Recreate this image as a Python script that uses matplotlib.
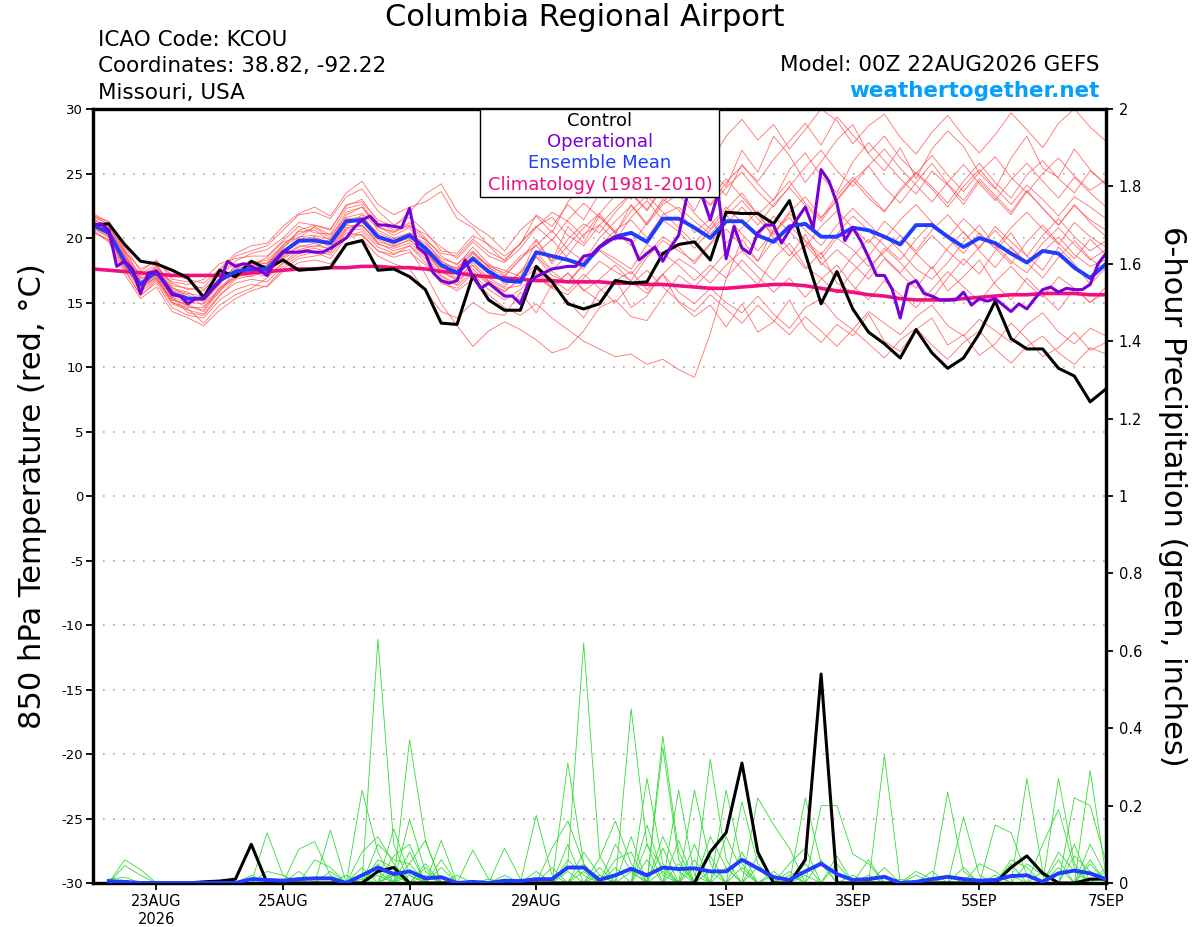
import numpy as np
import matplotlib
matplotlib.use("Agg")
import matplotlib.pyplot as plt
from matplotlib.patches import Rectangle

plt.rcParams['font.family'] = ['DejaVu Sans']

# ---------------- DATA ----------------
x_tick_hours = [24, 72, 120, 168, 240, 288, 336, 384]
x_tick_labels = ['23AUG\n2026', '25AUG', '27AUG', '29AUG', '1SEP', '3SEP', '5SEP', '7SEP']
temp_ticks = [-30, -25, -20, -15, -10, -5, 0, 5, 10, 15, 20, 25, 30]
precip_ticks = [0, 0.2, 0.4, 0.6, 0.8, 1.0, 1.2, 1.4, 1.6, 1.8, 2.0]
precip_tick_labels = ['0', '0.2', '0.4', '0.6', '0.8', '1', '1.2', '1.4', '1.6', '1.8', '2']

# 850 hPa temperature, 6-hourly from 00Z 22AUG (65 values)
control_temp = [21.0, 21.1, 19.5, 18.2, 18.0, 17.5, 16.9, 15.4, 17.5, 17.0, 18.2, 17.6, 18.3,
                17.5, 17.6, 17.7, 19.5, 19.8, 17.5, 17.6, 17.0, 16.0, 13.4, 13.3, 17.1, 15.2,
                14.4, 14.4, 17.8, 16.6, 14.9, 14.5, 14.9, 16.7, 16.5, 16.6, 18.8, 19.5, 19.7,
                18.3, 22.0, 21.9, 21.9, 21.1, 22.9, 18.8, 14.9, 17.4, 14.5, 12.7, 11.8, 10.7,
                12.9, 11.1, 9.9, 10.7, 12.6, 15.1, 12.2, 11.4, 11.4, 9.9, 9.3, 7.3, 8.3]

mean_temp = [21.0, 20.4, 18.2, 16.4, 17.4, 15.7, 15.3, 15.3, 16.7, 17.4, 17.6, 17.6, 18.9,
             19.8, 19.8, 19.6, 21.3, 21.4, 20.1, 19.7, 20.2, 19.2, 17.9, 17.3, 18.4, 17.4,
             16.7, 16.6, 18.9, 18.6, 18.3, 17.9, 19.3, 20.1, 20.4, 19.7, 21.5, 21.5, 20.8,
             20.0, 21.3, 21.3, 20.2, 19.7, 20.9, 21.1, 20.1, 20.1, 20.8, 20.6, 20.1, 19.5,
             21.0, 21.0, 20.1, 19.3, 20.0, 19.6, 18.8, 18.1, 19.0, 18.8, 17.7, 16.9, 18.0]

climatology_temp = [17.6, 17.5, 17.4, 17.3, 17.2, 17.1, 17.1, 17.1, 17.1, 17.2,
                    17.3, 17.4, 17.5, 17.6, 17.6, 17.7, 17.7, 17.8, 17.8, 17.7,
                    17.7, 17.6, 17.4, 17.3, 17.1, 17.0, 16.9, 16.8, 16.7, 16.7,
                    16.6, 16.6, 16.6, 16.5, 16.5, 16.4, 16.4, 16.3, 16.2, 16.1,
                    16.1, 16.2, 16.3, 16.4, 16.4, 16.3, 16.1, 15.9, 15.8, 15.6,
                    15.5, 15.3, 15.2, 15.2, 15.2, 15.3, 15.4, 15.5, 15.6, 15.6,
                    15.7, 15.7, 15.7, 15.6, 15.6]

# Operational run, 3-hourly (129 values)
operational_temp = [21.0, 21.1, 20.6, 17.8, 18.2, 17.6, 15.7, 17.3, 17.4, 16.6, 15.6, 15.5, 14.9,
                    15.3, 15.3, 16.0, 16.6, 18.2, 17.8, 18.0, 17.8, 17.5, 17.1, 18.2, 18.9, 18.9,
                    18.9, 19.0, 18.9, 18.9, 19.2, 19.6, 20.0, 20.8, 21.4, 21.7, 21.0, 21.0, 20.9,
                    20.8, 22.3, 19.3, 18.8, 17.3, 16.7, 16.5, 16.7, 18.3, 17.0, 16.1, 16.5, 16.0,
                    15.5, 15.5, 14.9, 16.5, 17.0, 17.3, 17.6, 17.7, 17.8, 17.8, 18.6, 18.7, 19.3,
                    19.8, 20.0, 20.0, 19.8, 18.3, 18.8, 19.3, 18.2, 19.3, 20.2, 23.1, 24.5, 23.2,
                    21.4, 23.5, 18.4, 20.9, 19.2, 18.8, 20.4, 21.0, 21.0, 19.6, 20.6, 21.5, 22.4,
                    20.8, 25.3, 24.4, 22.7, 19.8, 20.8, 19.8, 18.5, 17.1, 17.1, 16.0, 13.8, 16.4,
                    16.7, 15.7, 15.5, 15.2, 15.2, 15.2, 15.8, 14.8, 15.3, 15.1, 15.3, 14.8, 14.3,
                    14.9, 14.5, 15.3, 16.0, 16.2, 15.8, 16.1, 16.0, 16.0, 16.4, 18.0, 18.8]

member_temps = [
    [21.5, 20.8, 19.0, 17.0, 17.8, 16.5, 16.0, 16.2, 17.5, 18.6, 19.0, 19.4, 20.6,
     21.8, 22.0, 21.5, 23.2, 23.8, 22.1, 21.0, 21.6, 20.5, 19.0, 18.8, 20.2, 19.5,
     18.6, 19.5, 21.8, 20.9, 22.6, 21.4, 23.5, 24.8, 23.0, 25.6, 24.1, 26.3, 27.5,
     25.2, 24.0, 26.8, 25.1, 27.9, 26.4, 24.3, 25.9, 27.6, 28.8, 26.5, 25.2, 27.0,
     24.6, 26.9, 28.3, 27.1, 25.0, 23.8, 26.2, 27.9, 25.4, 24.7, 26.9, 25.3, 24.1],
    [20.6, 19.8, 17.5, 15.6, 16.5, 14.6, 14.0, 13.8, 15.2, 16.0, 16.4, 16.2, 17.4,
     18.1, 18.3, 18.0, 19.6, 19.9, 18.6, 18.0, 17.6, 15.9, 14.3, 13.8, 15.0, 14.2,
     14.0, 15.8, 14.2, 16.4, 15.1, 13.8, 15.9, 16.8, 14.6, 15.5, 17.2, 15.0, 13.9,
     14.8, 13.1, 14.9, 12.7, 13.5, 15.2, 13.0, 11.9, 13.3, 12.4, 14.1, 12.0, 11.2,
     12.9, 13.8, 11.7, 12.5, 10.9, 11.8, 13.4, 12.2, 10.8, 11.5, 12.7, 11.3, 11.9],
    [21.2, 20.6, 18.5, 16.9, 17.0, 15.2, 14.8, 14.4, 16.1, 17.0, 17.2, 17.9, 19.5,
     20.3, 20.8, 20.0, 22.0, 22.4, 20.9, 20.4, 21.2, 20.0, 18.6, 17.9, 19.3, 18.0,
     17.1, 18.3, 19.9, 18.0, 19.4, 20.8, 21.9, 20.3, 22.6, 21.1, 23.0, 22.2, 20.4,
     21.5, 19.6, 20.8, 22.1, 19.9, 18.6, 20.3, 17.9, 19.1, 18.0, 16.8, 18.4, 17.2,
     16.1, 17.8, 15.9, 17.0, 18.3, 16.4, 15.2, 16.9, 15.6, 14.4, 16.1, 15.0, 15.8],
    [21.8, 21.0, 18.9, 16.2, 17.9, 16.1, 15.8, 15.0, 16.4, 17.9, 18.2, 18.0, 19.2,
     20.6, 21.0, 20.7, 22.5, 23.0, 21.2, 20.6, 21.0, 19.8, 18.2, 17.5, 18.6, 17.9,
     17.5, 17.0, 19.8, 18.2, 20.9, 19.6, 21.7, 20.5, 19.4, 21.2, 22.8, 23.9, 22.1,
     24.5, 23.3, 25.7, 24.2, 22.9, 25.3, 26.6, 24.8, 23.5, 25.9, 27.4, 26.0, 24.6,
     23.4, 25.2, 24.1, 22.6, 24.4, 23.1, 21.8, 23.6, 22.3, 21.0, 22.5, 21.4, 20.6],
    [20.9, 20.0, 17.9, 15.8, 16.8, 15.0, 14.5, 13.4, 14.8, 15.6, 16.1, 16.9, 18.0,
     18.8, 19.0, 18.7, 20.1, 20.5, 19.3, 18.8, 19.1, 17.2, 14.9, 13.2, 11.6, 12.8,
     13.5, 12.9, 12.1, 11.1, 11.5, 12.8, 14.6, 15.2, 13.9, 13.6, 15.4, 17.1, 16.2,
     17.5, 18.9, 17.6, 16.4, 18.4, 19.6, 17.8, 16.9, 15.7, 17.4, 18.6, 20.2, 19.0,
     17.6, 16.8, 18.1, 19.7, 21.0, 19.4, 18.2, 17.3, 18.9, 20.1, 18.7, 17.8, 18.3],
    [21.0, 20.2, 18.0, 16.2, 17.1, 15.4, 15.0, 14.9, 16.0, 17.0, 17.5, 17.2, 18.4,
     19.1, 19.4, 19.2, 20.8, 21.0, 19.6, 19.0, 19.4, 18.1, 16.6, 15.9, 16.8, 15.6,
     14.6, 14.0, 14.9, 13.8, 12.9, 12.0, 11.4, 10.8, 11.0, 10.2, 10.6, 9.8, 9.2,
     12.6, 16.8, 19.9, 18.2, 20.7, 19.1, 17.6, 18.9, 16.5, 15.8, 17.4, 19.2, 18.1,
     16.7, 15.3, 16.9, 18.4, 17.2, 19.0, 20.4, 18.6, 17.5, 19.3, 18.0, 16.4, 17.7],
    [21.3, 20.7, 18.6, 17.2, 18.0, 16.3, 16.1, 15.9, 17.3, 18.2, 18.8, 19.1, 20.0,
     21.2, 21.0, 20.6, 22.6, 22.8, 21.4, 20.9, 22.0, 23.4, 24.2, 22.1, 21.0, 20.2,
     19.0, 20.6, 21.7, 20.4, 22.8, 24.1, 23.2, 25.4, 26.9, 25.5, 27.3, 28.6, 27.0,
     25.8, 27.9, 29.2, 27.6, 28.8, 26.9, 28.4, 30.0, 29.1, 27.3, 28.7, 29.6, 27.8,
     26.5, 28.2, 29.5, 27.9, 26.6, 28.0, 29.7, 28.4, 27.0, 28.9, 30.0, 28.6, 27.5],
    [20.4, 19.9, 17.8, 16.0, 16.9, 15.2, 14.9, 15.6, 16.9, 17.2, 17.0, 17.5, 18.6,
     19.4, 19.3, 19.9, 21.2, 21.6, 20.4, 19.9, 20.3, 19.6, 18.4, 18.0, 19.0, 17.8,
     16.4, 17.3, 18.5, 17.1, 16.6, 18.0, 19.1, 18.4, 17.6, 19.5, 18.8, 17.9, 16.7,
     17.9, 16.9, 18.3, 17.0, 15.8, 16.9, 15.4, 16.8, 17.9, 16.3, 15.2, 16.7, 15.6,
     14.6, 16.0, 17.4, 16.2, 15.1, 16.6, 17.8, 16.5, 15.4, 17.0, 16.1, 15.0, 16.2],
    [21.6, 21.1, 19.2, 16.8, 17.6, 16.6, 16.4, 16.8, 18.0, 18.4, 18.6, 18.6, 19.8,
     20.9, 20.4, 20.3, 22.3, 22.6, 20.9, 20.2, 20.8, 19.0, 17.4, 16.8, 18.1, 16.9,
     16.2, 17.4, 18.9, 17.5, 18.7, 20.3, 21.0, 19.8, 21.6, 22.9, 21.4, 20.5, 19.2,
     20.6, 21.8, 20.3, 19.0, 20.5, 21.6, 19.8, 18.7, 20.3, 21.7, 20.6, 19.4, 18.3,
     19.9, 21.2, 20.0, 18.8, 20.4, 19.2, 18.0, 19.7, 21.0, 19.6, 18.4, 19.9, 18.7],
    [20.8, 20.3, 18.1, 15.9, 17.6, 15.9, 15.6, 14.7, 15.8, 17.6, 17.9, 18.5, 19.7,
     20.0, 20.9, 20.2, 21.6, 21.9, 20.8, 20.5, 20.9, 20.3, 19.3, 18.4, 19.7, 18.6,
     18.1, 19.2, 20.8, 22.0, 21.3, 20.1, 21.9, 23.3, 24.4, 23.0, 24.8, 25.9, 24.3,
     23.1, 24.6, 23.2, 21.8, 23.0, 24.4, 22.7, 21.5, 23.3, 24.7, 23.4, 22.1, 23.6,
     25.0, 23.8, 22.4, 24.0, 25.3, 23.9, 22.6, 24.1, 23.0, 21.7, 23.2, 22.4, 21.5],
    [21.1, 20.5, 18.3, 16.6, 17.3, 15.5, 14.2, 14.0, 15.5, 16.8, 17.1, 17.8, 19.0,
     19.9, 20.1, 19.5, 21.0, 20.9, 19.9, 19.3, 19.9, 18.8, 17.4, 16.7, 17.6, 16.5,
     15.9, 16.8, 17.6, 16.2, 17.3, 16.0, 15.1, 16.7, 17.4, 16.0, 17.2, 15.8, 14.9,
     16.1, 15.0, 14.2, 15.5, 14.1, 13.0, 14.6, 15.3, 13.8, 12.9, 14.3, 13.4, 12.5,
     13.9, 14.8, 13.2, 12.4, 13.7, 12.8, 11.9, 13.3, 14.2, 12.7, 11.8, 13.0, 12.4],
    [21.4, 20.9, 18.7, 16.6, 17.2, 16.2, 15.4, 15.2, 16.6, 17.3, 17.8, 17.3, 18.8,
     19.6, 19.9, 19.3, 21.0, 21.8, 20.2, 19.6, 20.0, 19.3, 18.0, 17.7, 18.9, 17.7,
     17.0, 18.4, 19.4, 20.6, 19.1, 18.2, 20.0, 21.3, 22.5, 21.0, 22.6, 23.4, 21.9,
     20.7, 22.2, 23.5, 21.8, 20.4, 22.0, 23.2, 21.6, 22.9, 24.4, 25.6, 23.9, 22.7,
     24.3, 25.8, 24.2, 22.9, 24.6, 23.3, 22.0, 23.7, 22.3, 21.0, 22.6, 21.2, 20.1],
    [20.7, 20.1, 17.6, 15.5, 16.7, 14.9, 14.4, 14.1, 15.6, 16.5, 16.8, 16.6, 17.8,
     18.6, 18.9, 18.4, 20.0, 20.3, 19.0, 18.5, 18.9, 17.9, 16.5, 16.1, 17.2, 16.0,
     15.2, 16.0, 17.3, 16.1, 15.6, 16.9, 18.2, 17.4, 16.7, 18.5, 19.8, 19.0, 18.2,
     19.6, 21.1, 22.4, 21.0, 22.6, 23.9, 22.5, 21.3, 23.0, 24.5, 23.1, 22.0, 23.8,
     25.1, 24.0, 22.7, 24.4, 25.8, 24.3, 23.1, 24.9, 26.0, 24.6, 23.5, 25.2, 24.2],
    [21.9, 21.2, 19.4, 17.4, 18.3, 16.8, 16.6, 16.0, 17.2, 18.0, 18.0, 18.3, 19.4,
     20.5, 20.6, 19.8, 21.8, 22.4, 20.6, 20.0, 20.4, 19.9, 18.8, 18.6, 19.9, 18.9,
     18.3, 19.6, 20.9, 19.8, 21.4, 22.7, 21.6, 20.4, 22.1, 23.3, 22.0, 20.8, 19.6,
     21.0, 22.4, 21.2, 20.1, 21.7, 20.5, 19.3, 20.9, 22.1, 20.8, 19.6, 21.3, 20.2,
     19.0, 20.6, 21.8, 20.4, 19.2, 20.9, 19.7, 18.6, 20.2, 21.5, 20.1, 19.0, 19.8],
    [21.0, 20.4, 18.4, 16.1, 17.0, 15.0, 14.6, 14.6, 16.2, 17.1, 17.3, 17.0, 18.1,
     19.0, 19.2, 18.9, 20.6, 20.7, 19.5, 19.2, 19.6, 18.6, 17.1, 16.4, 17.9, 16.6,
     15.8, 16.9, 17.9, 16.8, 15.9, 17.2, 16.1, 15.0, 16.4, 17.5, 16.2, 15.1, 14.3,
     15.6, 14.5, 13.4, 14.8, 13.6, 12.5, 13.9, 12.8, 11.6, 12.9, 11.8, 10.7, 12.1,
     13.0, 11.7, 10.6, 11.9, 12.8, 11.4, 10.3, 11.6, 12.4, 11.1, 10.2, 11.5, 11.0],
    [21.2, 20.6, 18.2, 16.5, 17.5, 15.6, 15.2, 15.4, 16.8, 17.7, 17.8, 18.1, 19.3,
     20.1, 20.2, 19.9, 21.5, 21.6, 20.2, 19.7, 20.4, 19.4, 18.2, 17.6, 18.8, 17.8,
     17.3, 18.6, 19.4, 18.2, 19.9, 21.1, 20.4, 22.0, 23.4, 22.1, 23.9, 25.0, 23.8,
     22.6, 24.3, 25.6, 24.4, 26.1, 27.5, 28.9, 27.2, 29.4, 28.0, 26.6, 27.9, 26.2,
     25.0, 26.4, 24.9, 23.6, 25.1, 26.3, 24.7, 23.5, 25.0, 26.2, 24.8, 23.7, 24.5],
    [20.5, 19.7, 17.2, 15.3, 16.2, 14.3, 13.8, 13.2, 14.4, 15.3, 15.9, 16.3, 17.6,
     18.4, 18.6, 18.9, 20.4, 20.2, 19.0, 18.7, 19.4, 18.4, 17.0, 16.3, 17.4, 16.4,
     15.6, 15.2, 17.0, 16.1, 17.3, 15.9, 16.8, 17.9, 16.6, 15.7, 17.2, 18.4, 17.6,
     16.5, 17.9, 19.0, 17.8, 16.7, 18.3, 19.5, 18.1, 17.0, 18.6, 19.9, 18.5, 17.3,
     18.8, 20.2, 19.0, 17.9, 19.3, 20.6, 19.2, 18.0, 19.6, 20.8, 19.5, 18.3, 19.1],
    [21.7, 21.3, 19.0, 17.6, 18.2, 17.1, 16.8, 16.5, 17.6, 18.8, 19.4, 19.6, 20.9,
     21.9, 22.4, 21.7, 23.5, 24.4, 22.6, 21.8, 22.4, 22.8, 23.6, 21.5, 20.8, 19.4,
     18.2, 19.6, 20.9, 21.6, 20.2, 19.4, 21.0, 22.3, 23.5, 22.2, 24.0, 25.2, 23.7,
     22.5, 23.9, 25.1, 23.6, 22.4, 24.0, 25.5, 26.8, 25.2, 24.0, 25.6, 26.9, 25.4,
     24.1, 22.8, 24.3, 25.7, 24.2, 22.9, 24.5, 25.8, 24.4, 23.1, 24.7, 23.5, 22.4],
    [20.9, 20.2, 17.7, 16.3, 16.9, 15.3, 14.7, 14.3, 15.9, 16.9, 17.4, 17.4, 18.5,
     19.3, 19.6, 19.1, 20.7, 21.0, 19.7, 19.4, 19.8, 18.9, 17.6, 16.9, 17.9, 16.7,
     16.1, 16.3, 18.6, 17.4, 16.5, 17.9, 19.0, 18.1, 17.2, 18.7, 20.1, 19.3, 18.0,
     19.5, 20.7, 19.4, 18.2, 19.8, 21.0, 19.7, 18.4, 20.0, 19.1, 17.8, 18.9, 20.2,
     18.8, 17.6, 19.2, 20.5, 19.0, 17.7, 19.3, 18.1, 16.9, 18.5, 19.8, 18.4, 17.5],
    [21.3, 20.6, 18.8, 16.6, 17.7, 16.0, 15.7, 15.5, 16.9, 17.5, 17.7, 17.9, 19.1,
     19.8, 20.0, 19.7, 21.2, 21.3, 20.0, 19.5, 20.1, 19.0, 17.7, 17.2, 18.3, 17.2,
     16.9, 16.8, 18.8, 19.9, 18.4, 17.6, 19.4, 20.6, 21.4, 20.0, 21.8, 22.4, 21.3,
     20.3, 21.7, 22.9, 21.5, 20.2, 21.9, 20.6, 19.4, 21.0, 22.3, 21.1, 19.9, 21.4,
     22.6, 21.2, 20.0, 21.5, 20.3, 19.2, 20.8, 22.0, 20.7, 19.5, 21.2, 20.1, 19.3],
]

# 6-hour precipitation (inches), periods ending 06Z 22AUG ... 00Z 7SEP (64 values)
control_precip = [0, 0, 0, 0, 0, 0, 0.003, 0.005,
                  0.01, 0.10, 0, 0, 0, 0, 0, 0,
                  0, 0.03, 0.04, 0, 0, 0, 0, 0,
                  0, 0, 0, 0, 0, 0, 0, 0,
                  0, 0, 0, 0, 0, 0, 0.08, 0.13,
                  0.31, 0.08, 0, 0, 0.06, 0.54, 0, 0,
                  0, 0, 0, 0, 0, 0, 0, 0,
                  0, 0.04, 0.07, 0.025, 0, 0, 0.01, 0.01]

mean_precip = [0.005, 0.003, 0, 0, 0, 0, 0, 0,
               0, 0.01, 0.008, 0.006, 0.01, 0.012, 0.012, 0,
               0.02, 0.04, 0.023, 0.03, 0.012, 0.015, 0, 0.003,
               0, 0.006, 0.005, 0.01, 0.01, 0.04, 0.04, 0.008,
               0.02, 0.037, 0.02, 0.04, 0.036, 0.038, 0.03, 0.03,
               0.06, 0.038, 0.015, 0.008, 0.03, 0.05, 0.023, 0.008,
               0.01, 0.016, 0, 0.003, 0.01, 0.016, 0.01, 0.006,
               0.008, 0.018, 0.02, 0.003, 0.025, 0.032, 0.025, 0.01]

# ensemble members: {6-h period number (1..64): precip inches}, other periods dry
member_precip = [
    {2: .06, 3: .035, 18: .63, 19: .10, 30: .05, 31: .62, 32: .07, 45: .22, 46: .05, 55: .17, 56: .02},
    {2: .045, 3: .02, 17: .24, 18: .08, 20: .37, 21: .11, 34: .45, 35: .10, 50: .33, 61: .27, 62: .05},
    {11: .13, 12: .02, 20: .165, 21: .03, 30: .31, 31: .05, 36: .38, 37: .08, 59: .27, 60: .03},
    {13: .087, 14: .107, 15: .02, 19: .14, 20: .02, 28: .175, 29: .02, 35: .27, 36: .05, 39: .32,
     40: .06, 63: .29, 64: .02},
    {15: .137, 22: .11, 26: .09, 27: .01, 36: .35, 37: .06, 41: .21, 42: .05, 54: .235, 55: .03},
    {1: .01, 2: .015, 18: .06, 19: .04, 24: .085, 25: .01, 29: .09, 30: .16, 31: .05, 38: .24,
     39: .05, 57: .15, 58: .13, 59: .02},
    {14: .06, 15: .04, 18: .10, 19: .06, 20: .05, 21: .11, 32: .064, 33: .16, 34: .05, 37: .24,
     38: .02, 42: .22, 43: .15, 44: .09, 62: .22, 63: .20, 64: .055},
    {17: .08, 18: .12, 19: .05, 31: .08, 32: .02, 35: .10, 36: .04, 40: .24, 41: .05, 46: .20,
     47: .20, 48: .075, 49: .05, 60: .10, 61: .19, 62: .04},
    {11: .03, 12: .02, 18: .05, 20: .08, 22: .04, 30: .10, 33: .06, 34: .08, 39: .12, 40: .04,
     44: .05, 45: .09, 58: .06, 59: .04, 63: .10, 64: .02},
    {10: .02, 13: .03, 17: .04, 19: .02, 21: .05, 26: .02, 28: .03, 34: .12, 36: .09, 38: .06,
     41: .08, 43: .03, 47: .07, 49: .02, 56: .05, 57: .03, 61: .08, 62: .03},
    {12: .01, 15: .03, 18: .02, 20: .03, 22: .06, 31: .03, 33: .04, 35: .06, 37: .11, 39: .03,
     42: .04, 45: .02, 52: .03, 53: .01, 59: .05, 60: .02, 63: .06},
    {16: .02, 19: .03, 21: .02, 25: .01, 29: .04, 32: .02, 36: .03, 38: .10, 40: .12, 41: .03,
     46: .06, 48: .02, 55: .04, 58: .02, 62: .10, 64: .03},
    {18: .03, 20: .05, 23: .02, 30: .06, 31: .02, 34: .03, 37: .05, 39: .07, 43: .02, 47: .05,
     51: .01, 54: .02, 61: .04, 63: .05},
    {17: .01, 19: .07, 20: .10, 27: .01, 30: .03, 32: .04, 35: .15, 36: .02, 40: .04, 44: .02,
     50: .04, 57: .02, 60: .03, 64: .04},
    {20: .02, 33: .10, 34: .03, 38: .04, 42: .07, 44: .03, 49: .06, 53: .03, 56: .01, 62: .07, 63: .03},
    {19: .02, 21: .04, 31: .05, 36: .12, 37: .03, 41: .04, 45: .05, 52: .02, 58: .05, 61: .06},
]

# ---------------- STYLE ----------------
C_MEMBER = '#ff5555'
C_GREEN = '#33dd33'
C_CONTROL = 'black'
C_OPER = '#7a00d6'
C_MEAN = '#1f3dff'
C_CLIM = '#f0107f'

fig = plt.figure(figsize=(12, 9.27), dpi=100)
ax = fig.add_axes([93 / 1200, 1 - 883 / 927, (1106 - 93) / 1200, (883 - 109) / 927])
ax2 = ax.twinx()

# temperature (left axis)
for m in member_temps:
    ax.plot(np.arange(len(m)) * 6, m, color=C_MEMBER, lw=0.6, alpha=0.85, zorder=2)
ax.plot(np.arange(len(climatology_temp)) * 6, climatology_temp, color=C_CLIM, lw=2.6, zorder=4)
ax.plot(np.arange(len(control_temp)) * 6, control_temp, color=C_CONTROL, lw=2.2, zorder=5)
ax.plot(np.arange(len(mean_temp)) * 6, mean_temp, color=C_MEAN, lw=2.8, zorder=6)
ax.plot(np.arange(len(operational_temp)) * 3, operational_temp, color=C_OPER, lw=2.2, zorder=7)

# precipitation (right axis)
for d in member_precip:
    arr = np.zeros(64)
    for k, v in d.items():
        arr[k - 1] = v
    ax2.plot(np.arange(1, 65) * 6, arr, color=C_GREEN, lw=0.6, zorder=2)
ax2.plot(np.arange(1, len(control_precip) + 1) * 6, control_precip, color=C_CONTROL, lw=2.2, zorder=4)
ax2.plot(np.arange(1, len(mean_precip) + 1) * 6, mean_precip, color=C_MEAN, lw=2.8, zorder=5)

ax.set_xlim(0, 384)
ax.set_ylim(-30, 30)
ax2.set_ylim(0, 2)

for yv in temp_ticks[1:-1]:
    ax.axhline(yv, color='#aaaaaa', lw=1.2, ls=(0, (1, 5)), zorder=1)

ax.set_xticks(x_tick_hours)
ax.set_xticklabels(x_tick_labels, fontsize=10.5, linespacing=1.2)
ax.set_yticks(temp_ticks)
ax.set_yticklabels([str(t) for t in temp_ticks], fontsize=9.5)
ax2.set_yticks(precip_ticks)
ax2.set_yticklabels(precip_tick_labels, fontsize=10.5)

ax.tick_params(axis='both', direction='out', length=5, width=1.3, pad=3)
ax2.tick_params(axis='y', direction='out', length=5, width=1.3, pad=4)
ax.tick_params(axis='y', pad=2)

for a in (ax, ax2):
    for s in a.spines.values():
        s.set_linewidth(2.3)
        s.set_color('black')

# legend box
ax2.add_patch(Rectangle(((480 - 93) / 1013, (883 - 197) / 774), (719 - 480) / 1013, (197 - 109) / 774,
                        transform=ax2.transAxes, facecolor='white', edgecolor='black', lw=1.0,
                        zorder=20, clip_on=False))
leg_items = [('Control', C_CONTROL, 121), ('Operational', C_OPER, 142),
             ('Ensemble Mean', C_MEAN, 163), ('Climatology (1981-2010)', C_CLIM, 185)]
for txt, col, ypx in leg_items:
    ax2.text(0.5005, (883 - ypx) / 774, txt, color=col, fontsize=13, ha='center', va='center',
             transform=ax2.transAxes, zorder=21)

# titles & headers
fig.text(585 / 1200, 1 - 18 / 927, 'Columbia Regional Airport', fontsize=22, ha='center', va='center')
fig.text(98 / 1200, 1 - 46 / 927, 'ICAO Code: KCOU', fontsize=15.5, ha='left', va='baseline')
fig.text(98 / 1200, 1 - 72 / 927, 'Coordinates: 38.82, -92.22', fontsize=15.5, ha='left', va='baseline')
fig.text(98 / 1200, 1 - 99 / 927, 'Missouri, USA', fontsize=15.5, ha='left', va='baseline')
fig.text(1100 / 1200, 1 - 71 / 927, 'Model: 00Z 22AUG2026 GEFS', fontsize=15.5, ha='right', va='baseline')
fig.text(1100 / 1200, 1 - 97 / 927, 'weathertogether.net', fontsize=15.5, fontweight='bold',
         color='#05a0fa', ha='right', va='baseline')

fig.text(33 / 1200, 1 - 496 / 927, '850 hPa Temperature (red, \u00b0C)', fontsize=22, rotation=90,
         ha='center', va='center')
fig.text(1172 / 1200, 1 - 496 / 927, '6-hour Precipitation (green, inches)', fontsize=22, rotation=270,
         ha='center', va='center')

fig.savefig('out.png', dpi=100, facecolor='white')
